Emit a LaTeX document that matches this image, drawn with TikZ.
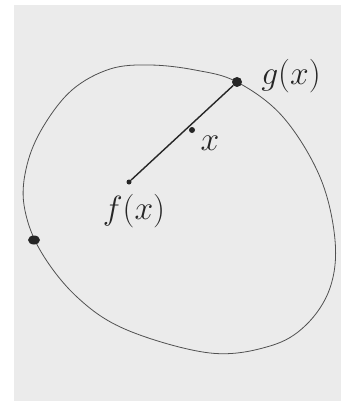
\documentclass[tikz,border=0pt]{standalone}
\usetikzlibrary{positioning,shapes.geometric}
\definecolor{paper}{RGB}{235,235,235}
\definecolor{pencil}{RGB}{80,80,80}

\begin{document}
\begin{tikzpicture}[x=1pt, y=-1pt,
    dot/.style={circle, fill=black!85, inner sep=0pt, minimum size=#1},
    lbl/.style={font=\Huge, scale=1.35, text=black!85}]
  \useasboundingbox (0,0) rectangle (341,401);
  % Sheet
  \fill[white] (0,0) rectangle (341,401);
  \fill[paper] (14,5) rectangle (341,401);
  % Boundary of the region
  \draw[pencil, line width=0.8pt] plot[smooth cycle, tension=0.6] coordinates {
    (150,65) (195,70) (237,82) (283,117) (320,177) (335,240) (330,288)
    (306,325) (270,346) (210,353) (127,330) (77,297) (40,250) (24,205)
    (27,165) (43,127) (72,90) (110,69)};
  % Points
  \node[dot=5pt] (f) at (129,182) {};
  \node[dot=10pt] (g) at (237,82) {};
  \node[dot=9pt, ellipse, minimum width=12pt, minimum height=9pt] (p) at (34,240) {};
  \draw[black!85, line width=1.4pt] (f) -- (g);
  \node[dot=6pt] (x) at (192,130) {};
  % Labels
  \node[lbl] (glabel) at (291,76) {$g(x)$};
  \node[lbl] (xlabel) at (210,143) {$x$};
  \node[lbl] (flabel) at (134,211) {$f(x)$};
\end{tikzpicture}
\end{document}
